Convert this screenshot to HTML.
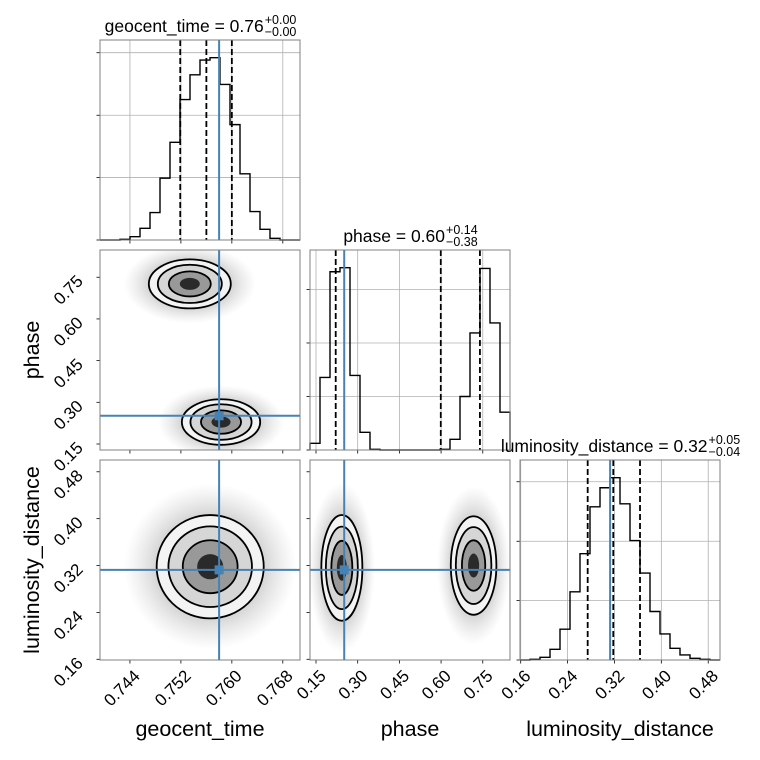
<!DOCTYPE html>
<html><head><meta charset="utf-8"><style>
html,body{margin:0;padding:0;background:#fff;}
svg{display:block;font-family:"Liberation Sans","DejaVu Sans",sans-serif;}
</style></head><body>
<svg id="fig" width="760" height="760" viewBox="0 0 760 760" xmlns="http://www.w3.org/2000/svg">
<defs>
<radialGradient id="cloud"><stop offset="0" stop-color="#777" stop-opacity="0.6"/><stop offset="0.6" stop-color="#888" stop-opacity="0.38"/><stop offset="1" stop-color="#aaa" stop-opacity="0"/></radialGradient>
</defs>
</svg>
<script>
// ---- data ----
const geoRange=[0.7393,0.7707];
const phaseRange=[0.1284,0.848];
const lumRange=[0.1588,0.5001];
const geoCounts=[0,0,2,10,35,82,185,292,420,494,538,545,465,345,198,85,32,5,0,0];
const phaseCounts=[20,217,533,545,223,53,2,0,0,0,0,0,0,2,32,160,350,543,380,113];
const lumCounts=[0,2,8,32,92,204,318,458,515,545,467,357,260,145,78,35,15,5,2,0];
const histMax=598;
const geoHistTicks=[0,187,373,560];
const phaseHistTicks=[0,160,320,480];
const lumHistTicks=[0,178,355,533];
const geoTicks=[0.744,0.752,0.760,0.768];
const geoTickLabels=["0.744","0.752","0.760","0.768"];
const phaseTicks=[0.15,0.30,0.45,0.60,0.75];
const phaseTickLabels=["0.15","0.30","0.45","0.60","0.75"];
const lumTicks=[0.16,0.24,0.32,0.40,0.48];
const lumTickLabels=["0.16","0.24","0.32","0.40","0.48"];
const geoQuant=[0.7519,0.7560,0.7600];
const phaseQuant=[0.2209,0.5990,0.7398];
const lumQuant=[0.2743,0.3180,0.3636];
const truths=[0.7580,0.2515,0.3126];
// blobs: [cx, cy, sx, sy]
const blobsGeoPhase=[[0.7534,0.726,0.00314,0.043],[0.7583,0.229,0.0030,0.040]];
const blobsGeoLum=[[0.7566,0.318,0.0041,0.043]];
const blobsPhaseLum=[[0.243,0.316,0.036,0.044],[0.717,0.320,0.040,0.041]];

// ---- layout ----
const NS="http://www.w3.org/2000/svg";
const svg=document.getElementById('fig');
const colX=[100,310,520], rowY=[40,250,460], S=200;
const ranges=[geoRange,phaseRange,lumRange];
function el(tag,attrs,parent){const e=document.createElementNS(NS,tag);for(const k in attrs)e.setAttribute(k,attrs[k]);(parent||svg).appendChild(e);return e;}
function sx(i,v){const r=ranges[i];return colX[i]+(v-r[0])/(r[1]-r[0])*S;}
function sy(j,v){const r=ranges[j];return rowY[j]+S-(v-r[0])/(r[1]-r[0])*S;}
function hy(j,c){return rowY[j]+S-c/histMax*S;}

const counts=[geoCounts,phaseCounts,lumCounts];
const hticks=[geoHistTicks,phaseHistTicks,lumHistTicks];
const ticks=[geoTicks,phaseTicks,lumTicks];
const tlabels=[geoTickLabels,phaseTickLabels,lumTickLabels];
const quants=[geoQuant,phaseQuant,lumQuant];
const names=['geocent_time','phase','luminosity_distance'];

// diagonal histograms
for(let i=0;i<3;i++){
  const g=el('g',{});
  
  
  const x0=colX[i],y0=rowY[i];
  el('rect',{x:x0,y:y0,width:S,height:S,fill:'#fff'},g);
  ticks[i].forEach(t=>{const x=sx(i,t);el('line',{x1:x,x2:x,y1:y0,y2:y0+S,stroke:'#b0b0b0','stroke-width':0.8},g);});
  hticks[i].forEach(c=>{const y=hy(i,c);el('line',{x1:x0,x2:x0+S,y1:y,y2:y,stroke:'#b0b0b0','stroke-width':0.8},g);
    el('line',{x1:x0-3.5,x2:x0,y1:y,y2:y,stroke:'#000','stroke-width':0.8},g);});
  const n=counts[i].length,r=ranges[i],bw=(r[1]-r[0])/n;
  let d='M'+sx(i,r[0])+','+hy(i,0);
  counts[i].forEach((c,k)=>{d+=' L'+sx(i,r[0]+k*bw)+','+hy(i,c)+' L'+sx(i,r[0]+(k+1)*bw)+','+hy(i,c);});
  d+=' L'+sx(i,r[1])+','+hy(i,0);
  const p=el('path',{d:d,fill:'none',stroke:'#000','stroke-width':1.4},g);
  
  
  quants[i].forEach(q=>{const x=sx(i,q);const l=el('line',{x1:x,x2:x,y1:y0,y2:y0+S,stroke:'#000','stroke-width':1.8,'stroke-dasharray':'6,3'},g);
    
    });
  const tx=sx(i,truths[i]);
  const tl=el('line',{x1:tx,x2:tx,y1:y0,y2:y0+S,stroke:'#4682b4','stroke-width':2},g);
  
  
  ticks[i].forEach(t=>{const x=sx(i,t);el('line',{x1:x,x2:x,y1:y0+S,y2:y0+S+3.5,stroke:'#000','stroke-width':0.8},g);});
  el('rect',{x:x0,y:y0,width:S,height:S,fill:'none',stroke:'#808080','stroke-width':1},g);
}

// 2D panels
const pairs=[[0,1,blobsGeoPhase],[0,2,blobsGeoLum],[1,2,blobsPhaseLum]];
pairs.forEach(([i,j,blobs])=>{
  const g=el('g',{});
  
  
  const x0=colX[i],y0=rowY[j];
  const cid='clip'+i+j;
  const cp=el('clipPath',{id:cid},g);el('rect',{x:x0,y:y0,width:S,height:S},cp);
  const inner=el('g',{'clip-path':'url(#'+cid+')'},g);
  blobs.forEach(b=>{
    const cx=sx(i,b[0]),cy=sy(j,b[1]);
    const rx=Math.abs(sx(i,b[0]+b[2])-cx),ry=Math.abs(sy(j,b[1]+b[3])-cy);
    const c=el('ellipse',{cx:cx,cy:cy,rx:rx*3.3,ry:ry*3.3,fill:'url(#cloud)'},inner);
    
    
    const levels=[[2.05,'#f3f3f3',1.8],[1.6,'#d6d6d6',1.8],[1.05,'#999',1.8],[0.5,'#2a2a2a',0]];
    levels.forEach(([k,f,w])=>{
      const e=el('ellipse',{cx:cx,cy:cy,rx:rx*k,ry:ry*k,fill:f,stroke:w?'#000':'none','stroke-width':w},inner);
      
      
    });
  });
  const tx=sx(i,truths[i]),ty=sy(j,truths[j]);
  el('line',{x1:tx,x2:tx,y1:y0,y2:y0+S,stroke:'#4682b4','stroke-width':2},inner);
  el('line',{x1:x0,x2:x0+S,y1:ty,y2:ty,stroke:'#4682b4','stroke-width':2},inner);
  const m=el('rect',{x:tx-4.5,y:ty-4.5,width:9,height:9,fill:'#4682b4'},inner);
  
  
  ticks[i].forEach(t=>{const x=sx(i,t);el('line',{x1:x,x2:x,y1:y0+S,y2:y0+S+3.5,stroke:'#000','stroke-width':0.8},g);});
  ticks[j].forEach(t=>{const y=sy(j,t);el('line',{x1:x0-3.5,x2:x0,y1:y,y2:y,stroke:'#000','stroke-width':0.8},g);});
  el('rect',{x:x0,y:y0,width:S,height:S,fill:'none',stroke:'#808080','stroke-width':1},g);
});

// tick labels: bottom row x
for(let i=0;i<3;i++){
  ticks[i].forEach((t,k)=>{const x=sx(i,t)+11,y=rowY[2]+S+17;
    const tx=el('text',{x:x,y:y,'font-size':17,'text-anchor':'end',transform:'rotate(-45 '+x+' '+y+')'});
    tx.textContent=tlabels[i][k];
    
    });
}
// left column y tick labels
[1,2].forEach(j=>{
  ticks[j].forEach((t,k)=>{const x=colX[0]-16,y=sy(j,t)+5;
    const tx=el('text',{x:x,y:y,'font-size':17,'text-anchor':'end',transform:'rotate(-45 '+x+' '+y+')'});
    tx.textContent=tlabels[j][k];
    
    });
});
// axis titles
[['geocent_time',200],['phase',410],['luminosity_distance',620]].forEach(([s,x])=>{
  const t=el('text',{x:x,y:736,'font-size':21.5,'text-anchor':'middle'});t.textContent=s;
  
  });
[['phase',350],['luminosity_distance',560]].forEach(([s,y])=>{
  const t=el('text',{x:39,y:y,'font-size':21.5,'text-anchor':'middle',transform:'rotate(-90 39 '+y+')'});t.textContent=s;
  
  });
// panel titles
[['geocent_time = 0.76','+0.00','\u22120.00',200,32],['phase = 0.60','+0.14','\u22120.38',410,242],['luminosity_distance = 0.32','+0.05','\u22120.04',620,452]].forEach(([m,sp,sb,cx,by])=>{
  const g=el('g',{});
  
  
  const t=el('text',{x:0,y:by,'font-size':17.5},g);t.textContent=m;
  const w=t.getComputedTextLength();
  const t2=el('text',{x:0,y:by-8,'font-size':12.5},g);t2.textContent=sp;
  const t3=el('text',{x:0,y:by+4,'font-size':12.5},g);t3.textContent=sb;
  const w2=Math.max(t2.getComputedTextLength(),t3.getComputedTextLength());
  const start=cx-(w+w2)/2;
  t.setAttribute('x',start);t2.setAttribute('x',start+w+1);t3.setAttribute('x',start+w+1);
});
</script>
</body></html>
